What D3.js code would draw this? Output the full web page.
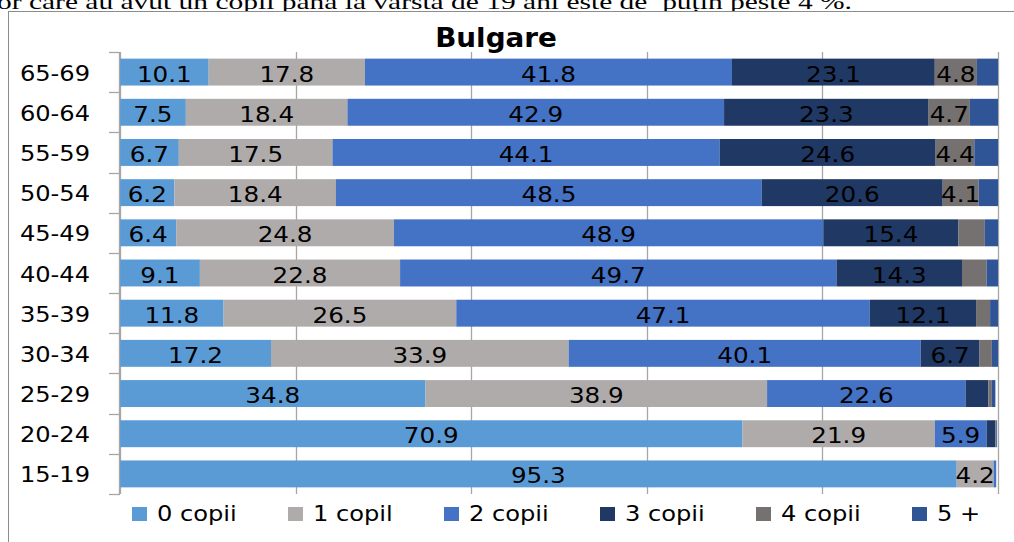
<!DOCTYPE html>
<html><head><meta charset="utf-8">
<script src="https://cdn.jsdelivr.net/npm/d3@7"></script>
<style>body{margin:0;background:#fff;overflow:hidden}</style>
</head><body>
<svg id="c" width="1014" height="542"></svg>
<script>
const categories = ["65-69","60-64","55-59","50-54","45-49","40-44","35-39","30-34","25-29","20-24","15-19"];
const seriesNames = ["0 copii","1 copil","2 copii","3 copii","4 copii","5 +"];
const copii0 = [10.1, 7.5, 6.7, 6.2, 6.4, 9.1, 11.8, 17.2, 34.8, 70.9, 95.3];
const copil1 = [17.8, 18.4, 17.5, 18.4, 24.8, 22.8, 26.5, 33.9, 38.9, 21.9, 4.2];
const copii2 = [41.8, 42.9, 44.1, 48.5, 48.9, 49.7, 47.1, 40.1, 22.6, 5.9, 0.3];
const copii3 = [23.1, 23.3, 24.6, 20.6, 15.4, 14.3, 12.1, 6.7, 2.6, 1.0, 0.0];
const copii4 = [4.8, 4.7, 4.4, 4.1, 3.0, 2.8, 1.6, 1.4, 0.4, 0.1, 0.0];
const copii5 = [2.4, 3.2, 2.7, 2.2, 1.5, 1.3, 0.9, 0.7, 0.4, 0.1, 0.0];
const xTicks = [0, 20, 40, 60, 80, 100];
const colors = ["#5B9BD5","#AFABAB","#4472C4","#203864","#767171","#2F5597"];
const title = "Bulgare";
const topText = "or care au avut un copil până la vârsta de 19 ani este de \u00A0puțin peste 4 %.";

const seriesValues = [copii0, copil1, copii2, copii3, copii4, copii5];
const rows = categories.map((c, i) => {
  const o = {cat: c};
  seriesNames.forEach((s, j) => o[s] = seriesValues[j][i]);
  return o;
});
const stack = d3.stack().keys(seriesNames)(rows);

const svg = d3.select("#c");
const FONT = "DejaVu Sans";
const SX = 1.15;

// top clipped text from the document
svg.append("text").attr("x", -3).attr("y", 8.5)
  .attr("font-family", "Liberation Serif").attr("font-size", 22)
  .attr("textLength", 855).attr("lengthAdjust", "spacingAndGlyphs")
  .attr("fill", "#000").text(topText);

// frame
svg.append("rect").attr("x", 0).attr("y", 11).attr("width", 1014).attr("height", 542).attr("fill", "#fff");
svg.append("line").attr("x1", 8).attr("x2", 1014).attr("y1", 11.5).attr("y2", 11.5).attr("stroke", "#8c8c8c");
svg.append("line").attr("x1", 8.5).attr("x2", 8.5).attr("y1", 11).attr("y2", 542).attr("stroke", "#8c8c8c");

const x = d3.scaleLinear().domain([0, 100]).range([120, 998]);
const y = d3.scaleBand().domain(categories).range([52, 494]).paddingInner(0.33).paddingOuter(0.165);

// gridlines
svg.append("g").selectAll("line").data(xTicks).join("line")
  .attr("x1", d => Math.round(x(d)) + 0.5).attr("x2", d => Math.round(x(d)) + 0.5)
  .attr("y1", 52).attr("y2", 494)
  .attr("stroke", "#a6a6a6").attr("stroke-width", 1.3);

// bars
const g = svg.append("g");
stack.forEach((layer, j) => {
  g.append("g").selectAll("rect").data(layer).join("rect")
    .attr("x", d => x(d[0])).attr("width", d => Math.max(0, x(d[1]) - x(d[0])))
    .attr("y", d => y(d.data.cat)).attr("height", y.bandwidth())
    .attr("fill", colors[j]);
});

// data labels
stack.forEach((layer, j) => {
  g.append("g").selectAll("text").data(layer.filter(d => d[1] - d[0] >= 4)).join("text")
    .attr("transform", d => `translate(${(x(d[0]) + x(d[1])) / 2},${y(d.data.cat) + y.bandwidth() / 2 + 9.5}) scale(1.12,1)`)
    .attr("text-anchor", "middle").attr("font-family", FONT).attr("font-size", 22)
    .attr("fill", "#000").text(d => (d[1] - d[0]).toFixed(1));
});

// left axis
svg.append("line").attr("x1", 119.5).attr("x2", 119.5).attr("y1", 52).attr("y2", 494).attr("stroke", "#a6a6a6").attr("stroke-width", 1.3);
svg.append("g").selectAll("line").data(categories.map((c, i) => 52 + i * y.step()).concat([494])).join("line")
  .attr("x1", 109).attr("x2", 120).attr("y1", d => Math.round(d) + 0.5).attr("y2", d => Math.round(d) + 0.5)
  .attr("stroke", "#a6a6a6").attr("stroke-width", 1.3);
svg.append("g").selectAll("text").data(categories).join("text")
  .attr("transform", d => `translate(90,${y(d) + y.bandwidth() / 2 + 8.5}) scale(${SX},1)`)
  .attr("text-anchor", "end").attr("font-family", FONT).attr("font-size", 21)
  .attr("fill", "#000").text(d => d);

// title
svg.append("text").attr("transform", "translate(496,47) scale(1.07,1)")
  .attr("text-anchor", "middle").attr("font-family", FONT).attr("font-weight", "bold")
  .attr("font-size", 26).attr("fill", "#000").text(title);

// legend
const lg = svg.append("g").selectAll("g").data(seriesNames).join("g")
  .attr("transform", (d, i) => `translate(${132 + i * 156},507)`);
lg.append("rect").attr("width", 15).attr("height", 14).attr("fill", (d, i) => colors[i]);
lg.append("text").attr("transform", `translate(25,14) scale(${SX},1)`)
  .attr("font-family", FONT).attr("font-size", 21).attr("fill", "#000").text(d => d);
</script>
</body></html>
